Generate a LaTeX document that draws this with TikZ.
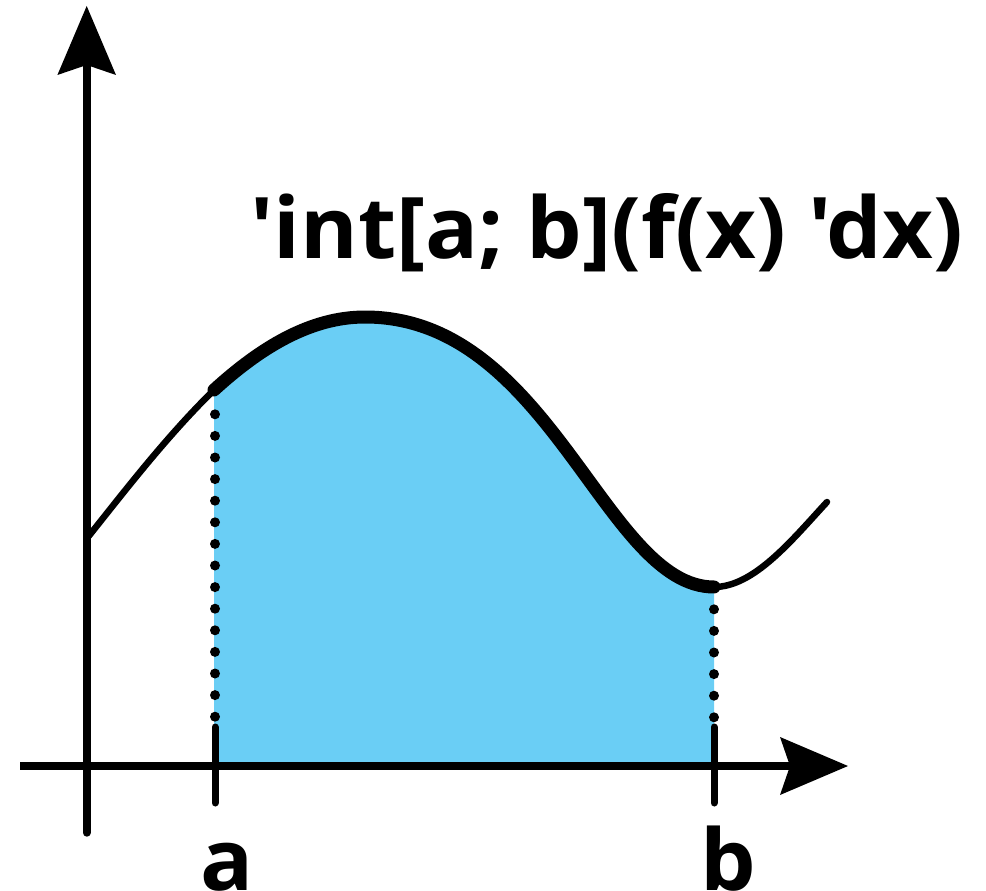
\documentclass[tikz,border=0pt]{standalone}
\usepackage{fontspec}
\newfontfamily\tf{Open Sans}[Ligatures=TeXOff]
\definecolor{areablue}{RGB}{106,206,245}
\tikzset{
  axisline/.style={line width=8pt},
  thincurve/.style={line width=6.5pt, line cap=round, line join=round},
  thickcurve/.style={line width=13pt, line cap=round, line join=round},
  tickline/.style={line width=7pt, line cap=round},
  dotmark/.style={fill=black},
  lab/.style={inner sep=0pt, anchor=base},
}
\newsavebox\titlebox
\newlength\titlewd
\begin{document}
\sbox\titlebox{\tf\bfseries\fontsize{85}{85}\selectfont 'int[a; b](f(x) 'dx)}%
\setlength\titlewd{\wd\titlebox}%
\pgfmathsetmacro\sx{713/\titlewd}%
\begin{tikzpicture}[x=1pt,y=-1pt]
\useasboundingbox (0,0) rectangle (986,891);
% named points
\coordinate (O) at (88,537);
\coordinate (A) at (214,390);
\coordinate (P) at (365,317);
\coordinate (B) at (714,587);
\coordinate (E) at (827,502);
\coordinate (Abase) at (214,766);
\coordinate (Bbase) at (714,766);
% area
\fill[areablue] (A) .. controls (260,348) and (310,317) .. (P)
  .. controls (550,317) and (605,587) .. (B) -- (Bbase) -- (Abase) -- cycle;
% dotted verticals
\foreach \i in {0,...,14} \fill[dotmark] (215,{414.3+21.6*\i}) circle (5pt);
\foreach \i in {0,...,5} \fill[dotmark] (714,{609.3+21.6*\i}) circle (5pt);
% curves
\draw[thincurve] (O) .. controls (124,492) and (166,437) .. (A);
\draw[thincurve] (B) .. controls (754,587) and (792,540) .. (E);
\draw[thickcurve] (A) .. controls (260,348) and (310,317) .. (P)
  .. controls (550,317) and (605,587) .. (B);
% axes
\coordinate (ybot) at (86.7,832.7);
\coordinate (ytop) at (86.7,66);
\coordinate (xl) at (20,766);
\coordinate (xr) at (791,766);
\draw[axisline, line cap=round] (ybot) -- (ytop);
\draw[axisline] (xl) -- (xr);
\fill (86.7,6) -- (116,75) -- (86.7,65) -- (57.4,75) -- cycle;
\fill (848,766) -- (780,737) -- (790,766) -- (780,795) -- cycle;
% ticks
\draw[tickline] (215,727) -- (215,803);
\draw[tickline] (714,727) -- (714,803);
% labels
\node[inner sep=0pt, anchor=base west] (title) at (250,258) {\scalebox{\sx}[1]{\usebox\titlebox}};
\node[lab] (la) at (227,890) {\scalebox{\sx}[1]{\tf\bfseries\fontsize{85}{85}\selectfont a}};
\node[lab] (lb) at (728,890) {\scalebox{\sx}[1]{\tf\bfseries\fontsize{85}{85}\selectfont b}};
\end{tikzpicture}
\end{document}
